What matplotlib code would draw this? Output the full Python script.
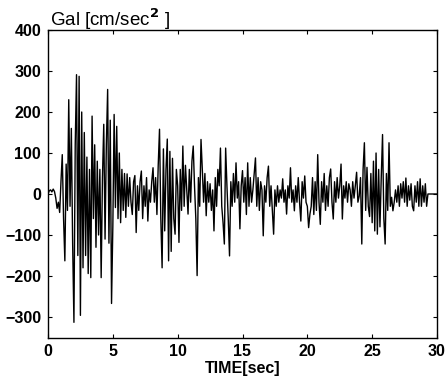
import numpy as np
import matplotlib
matplotlib.use("Agg")
import matplotlib.pyplot as plt

dt = 0.1
acc_0_5 = [
    0, 8, 10, 5, 12, 6, -10, -35, -20, -45,
    30, 96, -60, -163, 73, -40, 230, -30, 160, -120,
    -313, 120, 291, -150, 287, -296, 200, -180, 150, -150,
    90, -194, 60, -204, 190, -60, 120, -130, 80, -100,
    60, -204, 40, 170, -110, 120, 255, -120, 180, -267,
]
acc_5_10 = [
    -80, 194, -33, 165, -60, 100, -70, 60, -40, 50,
    -57, 49, -30, 40, -20, -50, 30, 45, -94, 20,
    -40, 30, 56, -60, 20, -30, 40, -66, 10, -20,
    30, 64, -20, 40, -50, 70, 158, -60, -180, 110,
    -90, 60, 134, -163, 104, -140, 87, -60, -98, 60,
]
acc_10_15 = [
    20, -118, 60, -40, 117, -30, 70, 10, -49, 60,
    -20, 80, 117, 20, -60, -199, 40, -30, 133, 60,
    -20, 50, -53, 30, -20, 25, -40, 10, -90, 40,
    -30, 60, 20, 112, -30, -70, -122, 112, 20, -60,
    -151, 30, -30, 50, -20, 76, -10, 30, -85, 20,
]
acc_15_20 = [
    57, -20, 40, -50, 76, -30, 40, -20, 10, 50,
    88, -30, 40, -40, 30, 10, -102, 20, -20, 40,
    68, -30, 20, -40, -98, 10, -30, 20, -20, 10,
    -10, 37, -20, 10, -49, 20, -10, 64, -20, 10,
    -41, 20, -20, 40, -20, -66, 30, -10, 44, -20,
]
acc_20_25 = [
    -30, -82, -49, -30, 40, -50, 30, -40, 96, -20,
    -74, 30, -20, 50, -40, 20, -30, 40, 61, -20,
    -61, 30, -20, 40, -10, 20, 73, -61, 20, -10,
    30, -20, 25, 10, -30, 30, -10, 20, 53, -20,
    -5, 40, -122, 60, 125, -40, 65, -30, -55, 50,
]
acc_25_30 = [
    -70, 80, -90, 100, -98, 60, -80, 40, 145, -60,
    -122, 50, -40, 125, -30, -8, -41, -20, 10, -20,
    20, -30, 25, -10, 30, -20, 39, -30, 20, -15,
    25, -30, -41, 20, -20, 30, -30, 37, -30, 20,
    -20, 25, -30, 0, 0, 0, 0, 0, 0, 0, 0,
]

acc = np.array(acc_0_5 + acc_5_10 + acc_10_15 + acc_15_20 + acc_20_25 + acc_25_30, dtype=float)
time = np.arange(len(acc)) * dt

x_ticks = [0, 5, 10, 15, 20, 25, 30]
y_ticks = [400, 300, 200, 100, 0, -100, -200, -300]

plt.rcParams['font.family'] = ['Liberation Sans', 'DejaVu Sans']

fig = plt.figure(figsize=(4.46, 3.84), dpi=100)
ax = fig.add_axes([48 / 446, 1 - 337.5 / 384, (437 - 48) / 446, (337.5 - 30) / 384])
ax.plot(time, acc, color='black', linewidth=1.0)
ax.set_xlim(0, 30)
ax.set_ylim(-350, 400)
ax.set_xticks(x_ticks)
ax.set_yticks(y_ticks)
ax.tick_params(direction='in', length=3, width=0.8, top=True, right=True,
               labelsize=11.5, pad=5)
for lab in ax.get_xticklabels() + ax.get_yticklabels():
    lab.set_fontweight('bold')
for s in ax.spines.values():
    s.set_linewidth(1.0)
ax.set_xlabel('TIME[sec]', fontsize=11.5, fontweight='bold', labelpad=1)
fig.text(50 / 446, 1 - 26 / 384, 'Gal [cm/sec$^{\\mathbf{2}}$ ]', fontsize=13.5,
         ha='left', va='baseline')

fig.savefig('out.png', dpi=100)
